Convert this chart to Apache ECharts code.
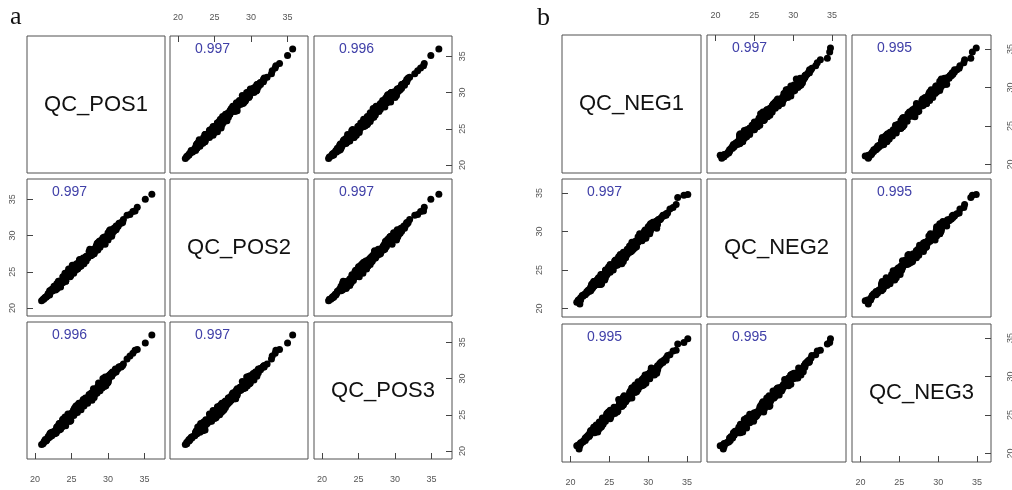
<!DOCTYPE html>
<html>
<head>
<meta charset="utf-8">
<script src="https://cdn.jsdelivr.net/npm/echarts@6/dist/echarts.min.js"></script>
<style>
  body { margin: 0; background: #fff; }
  #main { width: 1012px; height: 490px; }
</style>
</head>
<body>
<div id="main"></div>
<script>
// feature intensities per QC sample, estimated from the scatter bands
const POS1 = [20.9,21.1,21.2,21.3,21.5,21.4,21.6,21.7,21.8,21.8,
  22.0,22.3,22.0,22.1,22.3,22.4,22.4,22.9,23.0,23.1,
  23.0,23.0,23.5,23.3,23.2,23.3,24.0,23.8,23.4,24.2,
  23.9,23.8,23.8,24.7,24.1,24.1,24.6,24.5,24.7,25.0,
  24.6,25.4,25.3,25.3,25.4,25.3,25.8,25.6,25.8,25.6,
  26.0,25.8,26.2,26.1,26.1,26.7,27.0,26.7,26.5,26.9,
  27.1,27.2,27.6,27.7,27.8,27.4,28.0,27.7,28.1,28.3,
  28.1,28.5,28.2,28.0,28.4,28.6,28.4,28.9,29.0,28.6,
  28.8,28.9,29.6,29.0,29.5,29.5,30.0,29.7,29.7,30.0,
  30.0,30.0,30.3,30.1,30.3,30.6,30.5,30.6,30.6,30.8,
  31.1,31.1,31.0,31.3,31.4,31.5,31.5,31.8,31.8,32.0,
  22.7,22.8,22.6,22.6,23.0,22.9,23.0,23.5,23.3,23.3,
  23.1,23.5,23.7,23.8,24.2,24.0,24.1,24.1,24.0,24.8,
  24.9,24.6,24.8,24.8,24.5,24.8,25.0,25.4,25.3,25.8,
  25.1,25.3,25.4,25.7,26.3,26.1,26.3,25.9,26.0,26.4,
  26.1,26.6,26.6,27.2,27.1,27.0,27.0,27.5,27.5,27.6,
  27.8,27.4,28.1,27.5,27.5,28.4,28.1,28.6,28.3,28.7,
  28.9,28.5,28.8,28.8,29.2,29.2,28.7,29.5,29.7,29.5,
  29.9,29.8,29.3,29.6,30.1,30.0,30.0,30.5,30.3,30.2,
  30.4,30.8,30.8,30.6,31.1,
  32.1,32.6,33.0,33.4,33.7,34.0,35.1,36.0];
const POS2 = [21.0,21.2,21.2,21.4,21.5,21.5,21.6,21.7,21.9,22.0,
  21.8,22.3,22.4,22.4,22.6,22.6,22.4,22.6,22.9,22.9,
  23.4,22.7,22.9,22.9,23.7,23.1,24.0,23.5,23.7,23.7,
  24.0,23.8,24.3,24.6,24.4,24.8,24.3,25.0,24.4,24.9,
  25.4,25.1,24.8,25.3,25.7,25.4,25.4,25.7,25.4,25.7,
  26.3,25.8,26.2,26.6,26.0,26.1,26.5,26.5,26.4,26.9,
  27.0,26.9,27.2,27.3,27.3,27.8,27.7,27.5,27.5,28.1,
  28.1,28.0,28.2,28.1,28.6,28.5,28.5,29.0,29.1,29.0,
  29.2,28.7,28.8,29.3,29.4,29.6,29.4,29.8,29.8,29.6,
  30.0,29.9,30.2,30.0,30.8,30.3,30.7,30.7,30.8,31.0,
  30.9,31.3,31.0,31.2,31.3,31.6,31.7,31.8,31.7,31.8,
  22.6,22.5,22.7,23.0,22.7,23.1,23.2,23.6,23.7,23.5,
  23.2,23.5,23.6,23.8,23.7,24.1,23.9,24.5,24.3,24.4,
  24.5,24.3,24.3,24.7,24.9,25.2,25.2,25.2,25.7,25.4,
  25.9,25.9,25.4,26.1,25.8,25.7,26.5,25.8,26.0,26.4,
  26.7,26.7,26.9,26.9,26.9,27.1,27.1,27.5,27.3,27.2,
  27.9,27.4,27.6,28.1,27.6,28.0,27.8,28.0,28.2,28.8,
  28.4,28.9,28.5,28.7,28.8,29.4,28.9,29.2,29.5,29.8,
  29.9,29.6,29.7,29.4,29.9,30.4,29.7,29.9,29.9,30.7,
  30.3,30.8,30.6,30.7,30.8,
  32.2,32.8,32.9,33.3,33.4,33.9,35.0,35.7];
const POS3 = [20.9,21.0,21.2,21.4,21.4,21.6,21.5,21.7,21.8,22.0,
  21.9,22.1,22.3,22.5,22.6,22.5,22.6,22.5,22.8,22.9,
  22.8,23.3,23.3,23.4,23.5,23.8,23.9,24.0,23.8,23.9,
  23.8,24.3,24.4,24.1,24.7,24.6,24.5,24.5,24.9,25.1,
  24.9,25.1,25.6,24.9,25.2,25.2,25.6,26.1,26.1,26.2,
  25.7,26.3,25.8,26.3,26.2,26.2,26.9,26.4,26.8,27.3,
  27.0,26.9,27.5,27.3,27.0,27.2,27.6,28.0,27.4,27.9,
  28.0,28.0,28.3,28.6,28.4,28.8,28.5,28.8,28.7,28.9,
  28.7,28.8,29.6,29.3,29.7,29.6,29.5,29.3,30.1,29.5,
  30.0,30.2,30.5,30.2,30.3,30.6,30.4,30.9,30.6,30.8,
  31.0,31.2,31.3,31.3,31.4,31.6,31.6,31.6,31.7,31.8,
  22.4,22.8,22.7,22.6,22.9,23.0,23.3,23.0,22.9,23.0,
  23.2,23.2,23.3,24.1,23.5,24.1,23.8,24.2,24.4,24.1,
  24.2,24.3,25.1,24.7,25.1,24.6,25.1,25.6,25.0,25.3,
  25.3,25.7,25.9,25.5,25.7,25.7,26.0,26.2,26.6,26.7,
  26.5,26.4,27.1,26.6,27.3,27.2,26.8,27.2,27.1,27.4,
  27.2,27.8,28.0,27.7,27.6,28.4,28.1,28.3,28.3,28.6,
  28.3,28.6,28.8,28.7,28.7,29.0,29.4,28.9,29.0,29.3,
  29.4,29.3,30.0,30.2,29.9,29.8,30.3,30.3,30.4,30.5,
  30.7,30.8,30.9,30.8,30.9,
  32.0,32.7,33.1,33.5,33.9,34.0,34.9,36.0];

const NEG1 = [20.8,21.0,21.0,21.3,21.3,21.3,21.6,21.5,21.7,21.9,
  21.9,22.1,22.1,22.3,22.4,22.5,22.6,22.6,22.5,22.6,
  23.1,22.7,23.0,23.5,23.0,23.7,23.9,23.6,24.1,23.8,
  24.0,24.2,24.1,24.1,23.9,24.1,24.5,24.6,24.7,25.1,
  24.7,25.1,24.9,25.2,25.2,25.3,25.2,25.7,26.1,26.2,
  26.0,26.1,25.8,26.6,26.3,26.2,26.6,26.4,26.5,27.1,
  27.1,27.3,26.8,26.8,26.9,27.7,27.3,27.8,27.7,27.8,
  28.0,27.6,28.5,27.9,28.3,28.2,28.5,28.3,28.7,28.9,
  28.7,29.1,29.1,29.2,28.9,29.0,29.7,29.7,30.0,30.1,
  29.8,30.0,30.3,30.0,30.3,30.3,30.6,30.8,30.4,30.6,
  31.0,31.2,31.0,31.2,31.3,31.3,31.5,31.6,31.5,31.7,
  31.9,31.9,32.0,32.3,32.3,
  22.3,22.8,22.6,22.6,22.9,
  22.8,23.0,23.5,23.3,23.0,23.5,24.0,23.7,23.4,24.2,
  23.7,24.4,24.2,24.6,24.5,24.2,24.6,24.5,24.7,24.7,
  25.4,24.7,25.5,24.9,25.1,25.1,26.0,25.7,26.0,25.7,
  25.6,26.3,26.6,26.4,26.8,26.8,26.2,26.9,27.1,26.9,
  27.1,27.0,27.6,27.6,27.4,27.9,27.6,28.1,27.5,27.8,
  28.3,28.3,27.9,28.3,28.2,28.5,28.3,28.9,29.2,28.7,
  29.4,28.9,29.2,29.6,29.7,29.5,29.5,29.4,29.6,29.6,
  30.2,30.2,30.0,30.2,30.2,30.2,30.3,31.1,30.4,30.6,
  21.2,21.1,32.5,32.8,33.2,33.6,33.8,34.6,35.1];
const NEG2 = [20.8,21.1,21.0,21.1,21.4,21.3,21.6,21.7,21.8,21.9,
  21.8,22.0,22.2,22.4,22.2,22.4,22.3,22.6,22.5,22.6,
  23.0,23.1,23.5,23.1,23.0,23.1,23.1,24.0,23.7,24.0,
  23.8,23.8,23.7,24.2,24.4,24.4,24.9,25.0,24.4,24.7,
  24.9,25.0,25.4,25.2,25.3,25.3,25.1,25.5,25.7,26.1,
  25.8,25.9,26.3,25.8,26.1,26.7,26.9,27.0,26.7,27.1,
  26.6,27.0,27.0,27.3,26.9,27.4,27.7,27.4,27.4,27.6,
  27.7,28.1,28.0,28.0,28.4,28.3,28.5,28.7,28.6,28.8,
  29.3,29.0,29.2,28.9,29.7,29.2,29.3,29.3,29.9,30.0,
  29.7,30.1,30.1,29.9,30.3,30.8,30.6,31.0,31.0,30.8,
  31.3,30.9,31.3,31.4,31.5,31.5,31.6,31.6,31.5,31.8,
  32.0,32.1,32.0,32.1,32.3,
  22.3,22.6,22.5,22.8,22.8,
  23.2,22.9,23.2,23.3,23.5,23.8,23.2,23.8,23.7,23.7,
  24.0,23.7,23.9,24.7,24.0,24.2,24.5,25.0,24.4,25.0,
  25.4,24.9,25.0,25.3,25.7,25.4,25.6,26.1,26.2,26.2,
  25.7,26.0,26.1,26.0,26.1,26.8,26.6,26.5,26.7,27.0,
  27.0,26.9,27.4,27.3,27.5,27.5,27.3,27.7,27.5,28.2,
  27.9,27.9,28.6,28.1,28.4,28.8,28.6,28.8,28.8,29.0,
  29.2,29.2,29.4,29.3,29.1,29.1,30.0,29.4,29.7,30.2,
  29.7,30.4,30.6,30.3,30.8,30.5,31.0,30.4,30.7,31.2,
  20.6,21.0,32.4,32.9,33.1,33.5,34.4,34.7,34.8];
const NEG3 = [21.0,20.9,21.1,21.3,21.4,21.3,21.5,21.5,21.7,21.7,
  22.0,22.2,22.0,22.4,22.2,22.4,22.7,22.8,22.7,22.7,
  22.7,22.8,22.8,23.4,23.4,23.2,23.4,23.3,24.1,23.8,
  23.5,24.2,24.0,24.6,24.0,24.1,24.2,24.7,24.7,24.5,
  25.0,24.6,25.4,24.8,24.9,25.1,25.1,25.2,25.5,26.0,
  25.9,26.0,25.8,26.2,26.7,26.2,26.1,26.2,26.4,26.8,
  27.2,27.0,27.2,27.3,27.5,27.4,27.4,27.3,28.1,27.4,
  28.1,27.9,28.0,28.5,28.4,28.4,28.1,28.9,28.3,28.7,
  29.0,29.3,29.1,29.6,29.0,29.1,29.5,29.5,29.8,29.7,
  30.2,30.0,30.4,30.3,30.2,30.4,30.5,30.2,31.0,30.8,
  30.6,30.8,31.1,31.4,31.2,31.4,31.7,31.6,31.5,31.9,
  31.8,31.9,32.1,32.1,32.4,
  22.3,22.8,22.9,23.0,22.9,
  22.7,22.9,22.8,23.7,23.4,23.4,23.8,23.8,23.6,23.8,
  24.1,24.4,24.0,24.5,24.6,24.3,24.6,24.7,25.1,25.2,
  25.3,25.2,25.3,25.4,25.6,25.3,25.6,25.7,25.4,25.9,
  26.0,26.5,26.6,26.5,26.4,26.3,27.0,26.6,26.7,26.7,
  27.3,27.0,27.6,27.2,27.2,27.2,27.3,28.1,27.4,27.6,
  28.4,27.9,28.5,28.5,28.6,28.8,28.5,28.7,29.0,29.3,
  28.9,29.1,28.8,29.3,29.1,29.2,29.8,29.8,30.2,29.8,
  29.7,29.8,29.8,30.4,30.4,30.2,30.6,30.4,31.1,30.8,
  21.0,20.6,32.7,32.8,33.3,33.4,34.2,34.4,34.9];

const namesPOS = ['QC_POS1', 'QC_POS2', 'QC_POS3'];
const namesNEG = ['QC_NEG1', 'QC_NEG2', 'QC_NEG3'];
const corrPOS = [[null, 0.997, 0.996], [0.997, null, 0.997], [0.996, 0.997, null]];
const corrNEG = [[null, 0.997, 0.995], [0.997, null, 0.995], [0.995, 0.995, null]];
const tickValues = [20, 25, 30, 35];

// panel layout of the two matrices (pixels)
const layoutA = { tag: 'a', tagX: 10, tagY: 30, cols: [27, 170, 314], rows: [36, 179, 322], w: 138, h: 137,
  min: 18.9, max: 37.8, mTop: 14, mBottom: 16, mLeft: 10, mRight: 6 };
const layoutB = { tag: 'b', tagX: 537, tagY: 31, cols: [562, 707, 852], rows: [35, 179, 324], w: 139, h: 138,
  min: 18.9, max: 36.8, mTop: 15, mBottom: 16, mLeft: 18, mRight: 15 };

const option = { animation: false, grid: [], xAxis: [], yAxis: [], series: [], graphic: [] };

function axisStyle(show, margin, rotate) {
  return {
    axisLine: { show: false },
    splitLine: { show: false },
    axisTick: { show: show, inside: true, length: 6, customValues: tickValues, lineStyle: { color: '#444', width: 1 } },
    axisLabel: { show: show, margin: margin, rotate: rotate, customValues: tickValues,
      fontSize: 9, color: '#555', fontFamily: 'Liberation Sans' }
  };
}

function addMatrix(vars, names, corr, L) {
  option.graphic.push({ type: 'text', x: L.tagX, y: L.tagY,
    style: { text: L.tag, font: '26px "Liberation Serif"', fill: '#111', verticalAlign: 'bottom' } });
  for (let i = 0; i < 3; i++) {
    for (let j = 0; j < 3; j++) {
      const g = option.grid.length;
      const left = L.cols[j], top = L.rows[i];
      option.grid.push({ left: left, top: top, width: L.w, height: L.h, show: true,
        borderColor: '#505050', borderWidth: 1, backgroundColor: 'transparent', outerBoundsMode: 'none' });
      const showTop = i === 0 && j === 1;
      const showBottom = i === 2 && j !== 1;
      const showLeft = j === 0 && i === 1;
      const showRight = j === 2 && i !== 1;
      option.xAxis.push(Object.assign({ gridIndex: g, type: 'value', min: L.min, max: L.max,
        position: i === 0 ? 'top' : 'bottom' },
        axisStyle(showTop || showBottom, showTop ? L.mTop : L.mBottom, 0)));
      option.yAxis.push(Object.assign({ gridIndex: g, type: 'value', min: L.min, max: L.max,
        position: j === 0 ? 'left' : 'right' },
        axisStyle(showLeft || showRight, showLeft ? L.mLeft : L.mRight, 90)));
      if (i === j) {
        option.graphic.push({ type: 'text', x: left + L.w / 2, y: top + L.h / 2,
          style: { text: names[i], font: '22px "Liberation Sans"', fill: '#111', align: 'center', verticalAlign: 'middle' } });
      } else {
        // pairs(): x is the column sample, y is the row sample
        option.series.push({
          type: 'scatter', xAxisIndex: g, yAxisIndex: g, silent: true,
          symbolSize: 7, itemStyle: { color: '#000', opacity: 1 },
          data: vars[j].map((x, k) => [x, vars[i][k]])
        });
        option.graphic.push({ type: 'text', x: left + 25, y: top + 13,
          style: { text: corr[i][j].toFixed(3), font: '14px "Liberation Sans"', fill: '#4040a8', verticalAlign: 'middle' } });
      }
    }
  }
}

addMatrix([POS1, POS2, POS3], namesPOS, corrPOS, layoutA);
addMatrix([NEG1, NEG2, NEG3], namesNEG, corrNEG, layoutB);

const chart = echarts.init(document.getElementById('main'));
chart.setOption(option);
</script>
</body>
</html>
